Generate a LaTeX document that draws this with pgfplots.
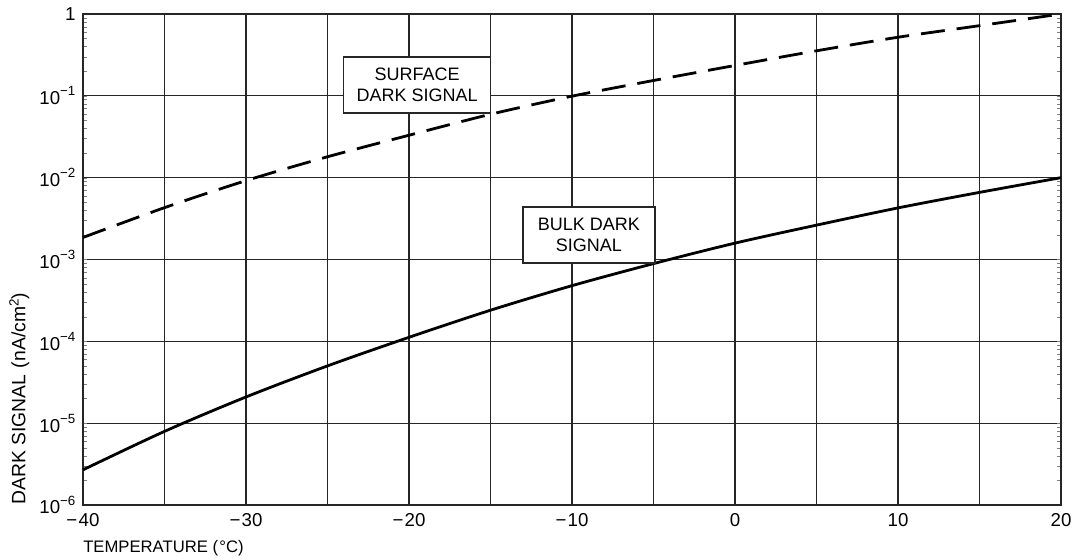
\documentclass[border=0pt]{standalone}
\usepackage{fontspec}
\setmainfont{Liberation Sans}
\usepackage{pgfplots}
\pgfplotsset{compat=1.18}
\newcommand{\tpow}[1]{10\raisebox{6.5pt}{\fontsize{10}{12}\selectfont −#1}}
\begin{document}
\fontsize{13.5}{16}\selectfont
\begin{tikzpicture}
\begin{axis}[
  scale only axis,
  width=733.5pt, height=368.25pt,
  ymode=log,
  xmin=-40, xmax=20, ymin=1e-6, ymax=1,
  xtick={-40,-35,...,20},
  xticklabels={−\kern1pt40,,−\kern1pt30,,−\kern1pt20,,−\kern1pt10,,0,,10,,20},
  ytick={1e-6,1e-5,1e-4,1e-3,1e-2,1e-1,1},
  yticklabels={\tpow{6},\tpow{5},\tpow{4},\tpow{3},\tpow{2},\tpow{1},1},
  major tick length=0pt,
  grid=major,
  grid style={black!85, line width=0.9pt},
  axis line style={black!85, line width=1pt},
  ticklabel style={font=\fontsize{14}{16}\selectfont},
  yticklabel style={xshift=-1pt},
  xticklabel style={yshift=-2pt},
  xlabel={TEMPERATURE (\kern1pt°C)},
  ylabel={DARK SIGNAL \kern1pt(nA/cm\raisebox{5pt}{\fontsize{10}{11}\selectfont 2})},
  label style={font=\fontsize{12.5}{15}\selectfont},
  xlabel style={at={(axis description cs:0,0)}, anchor=north west, yshift=-26pt, inner sep=0pt},
  ylabel style={at={(axis description cs:-0.0755,0)}, anchor=north west, inner sep=0pt, font=\fontsize{14.5}{16}\selectfont},
  clip=false,
]
\addplot[black, line width=2.1pt, dash pattern=on 18pt off 9pt, smooth] coordinates {
(-40,1.86e-3) (-35,4.3e-3) (-30,9.2e-3) (-25,1.8e-2) (-20,3.3e-2) (-15,5.95e-2)
(-10,9.9e-2) (-5,0.154) (0,0.235) (5,0.355) (10,0.52) (15,0.72) (20,1)};
\addplot[black, line width=2.1pt, smooth] coordinates {
(-40,2.69e-6) (-35,7.94e-6) (-30,2.09e-5) (-25,5.01e-5) (-20,1.12e-4) (-15,2.40e-4)
(-10,4.79e-4) (-5,8.91e-4) (0,1.585e-3) (5,2.63e-3) (10,4.27e-3) (15,6.61e-3) (20,1e-2)};
\node[draw=black!85, line width=1pt, fill=white, align=center, minimum width=110pt, minimum height=42pt, inner sep=2pt] at (axis cs:-19.5,0.1355) {SURFACE\\DARK SIGNAL};
\node[draw=black!85, line width=1pt, fill=white, align=center, minimum width=99pt, minimum height=42pt, inner sep=2pt] at (axis cs:-8.96,2.0e-3) {BULK DARK\\SIGNAL};
\coordinate (sw) at (rel axis cs:0,0);
\coordinate (ne) at (rel axis cs:1,1);
\end{axis}
\pgfresetboundingbox
\path[use as bounding box] ([shift={(-62.25pt,-40.5pt)}]sw) rectangle ([shift={(10.5pt,10.5pt)}]ne);
\end{tikzpicture}
\end{document}
